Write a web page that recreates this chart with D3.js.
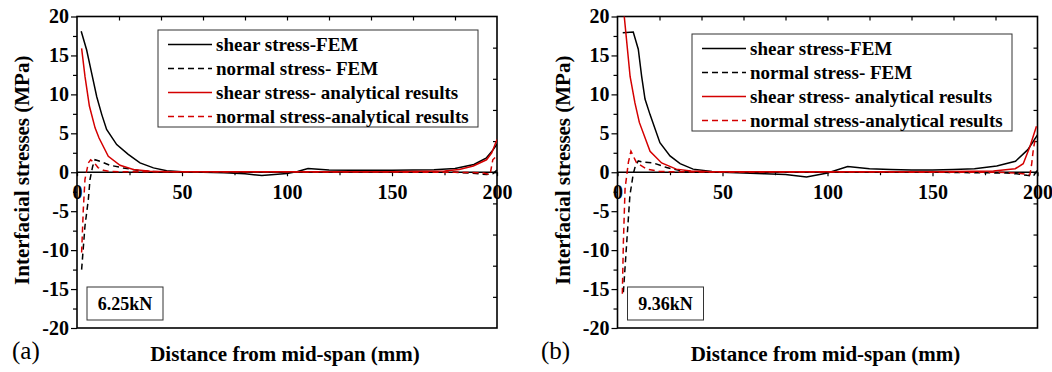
<!DOCTYPE html>
<html>
<head>
<meta charset="utf-8">
<script src="https://cdn.jsdelivr.net/npm/d3@7"></script>
<style>
  body { margin: 0; background: #fff; }
  text { font-family: "Liberation Serif", "Times New Roman", serif; }
</style>
</head>
<body>
<div id="CHART"></div>
<script>
// values (x in mm, stress in MPa)
var seriesNames = ["shear stress-FEM", "normal stress- FEM", "shear stress- analytical results", "normal stress-analytical results"];
var xTicks = [0, 50, 100, 150, 200];
var yTicks = [20, 15, 10, 5, 0, -5, -10, -15, -20];
var panelLabels = ["(a)", "(b)"];
var loadLabels = ["6.25kN", "9.36kN"];

// panel (a) 6.25kN
var aShearFEM = [[2,18.1],[4.6,15.7],[7,12.7],[9.4,9.7],[11.8,7.4],[14.1,5.5],[18.9,3.55],[24.4,2.3],[30,1.2],[36.4,0.56],[42.7,0.2],[50,0.05],[60,0],[70,-0.05],[80,-0.2],[88,-0.42],[100,-0.17],[105,0.1],[110,0.47],[120,0.3],[130,0.25],[140,0.25],[150,0.25],[160,0.28],[170,0.33],[180,0.47],[189,1.0],[195,1.85],[198.2,2.9],[200,3.6]];
var aNormalFEM = [[2.2,-12.5],[3.8,-6.9],[5.4,-3.5],[6.2,-0.9],[7.5,0.8],[8.6,1.6],[11,1.4],[15.7,0.9],[22,0.56],[30,0.2],[40,0.05],[50,0],[100,0],[150,0],[180,0],[190,-0.15],[195,-0.3],[198,-0.2],[200,0.3]];
var aShearAn = [[2.2,15.9],[3.8,12.3],[5.9,8.5],[8.6,5.7],[10.5,4.4],[14.9,2.05],[20.5,0.9],[26.8,0.35],[34.8,0.13],[45,0.05],[100,0.08],[150,0.08],[175,0.15],[182,0.35],[188.7,0.8],[195,1.6],[197.5,2.5],[200,4.2]];
var aNormalAn = [[2.2,-10.3],[3,-4.8],[3.8,-0.9],[5.4,1.2],[6.5,1.6],[8,1.3],[10,0.6],[12.5,0.25],[16,0.1],[25,0.05],[100,0.05],[180,0],[190,-0.05],[193.5,-0.1],[196.7,-0.3],[198,1.6],[199.5,2.0]];

// panel (b) 9.36kN
var bShearFEM = [[2.5,17.9],[7.5,18],[9.9,15.8],[11.5,12.3],[13.1,9.4],[15.5,7.4],[20.2,3.8],[25,2.1],[29.8,1.1],[36,0.4],[45,0.1],[50,0],[60,-0.1],[70,-0.2],[80,-0.3],[90,-0.6],[100,-0.1],[109.6,0.73],[120,0.45],[130,0.35],[140,0.3],[150,0.3],[160,0.35],[170,0.45],[180.6,0.8],[189.5,1.4],[195.4,2.9],[200,4.8]];
var bNormalFEM = [[2.8,-15.4],[4.4,-9],[5.9,-3],[7.5,-0.2],[8.5,0.8],[9.9,1.45],[12,1.3],[17,1.2],[23.4,0.6],[30,0.2],[40,0.05],[50,0],[100,0],[150,0],[185,-0.1],[190,-0.2],[195,-0.4],[198,-0.5],[200,0.3]];
var bShearAn = [[2.5,22],[6,12.3],[8.3,8.9],[10.4,6.4],[15.5,2.7],[21,1.2],[28,0.4],[35,0.15],[45,0.05],[100,0.05],[150,0.08],[179,0.17],[189.4,0.45],[193.2,1.1],[196.4,3.3],[199.5,5.9]];
var bNormalAn = [[2.3,-15.6],[2.8,-9],[3.6,-2.1],[5.2,1.3],[6.4,2.7],[9.1,1.2],[14,0.4],[20,0.1],[30,0.05],[100,0.03],[180,0],[190,-0.1],[196.4,-0.3],[197.2,1.0],[198,2.9],[199,4.5]];

var panelSeries = [[aShearFEM, aNormalFEM, aShearAn, aNormalAn], [bShearFEM, bNormalFEM, bShearAn, bNormalAn]];

var W = 1052, H = 372;
var TOP = 16.5, BOTTOM = 328, PW = 420;
var panelLeft = [77, 617.5];
var labelX = [12, 541];
var legendTop = [30, 34];
var legendLeft = [81, 74.5];
var colors = ["#000", "#000", "#d40000", "#d40000"];
var dashes = [null, "6,4", null, "6,4"];
var FONT = "Liberation Serif, Times New Roman, serif";

var svg = d3.select("#CHART")
    .append("svg")
    .attr("width", W)
    .attr("height", H);

function drawPanel(p) {
    var g = svg.append("g")
        .attr("transform", "translate(" + panelLeft[p] + ",0)");

    var x = d3.scaleLinear().domain([0, 200]).range([0, PW]);
    var y = d3.scaleLinear().domain([-20, 20]).range([BOTTOM, TOP]);

    g.append("clipPath").attr("id", "clip" + p)
        .append("rect")
        .attr("x", 0).attr("y", TOP)
        .attr("width", PW).attr("height", BOTTOM - TOP);

    // left axis, ticks outward
    var yAxis = g.append("g")
        .call(d3.axisLeft(y).tickValues(yTicks).tickSize(6).tickFormat(d3.format("d")))
        .attr("font-size", 20)
        .attr("font-weight", "bold")
        .attr("font-family", FONT);
    g.append("g")
        .call(d3.axisLeft(y).tickValues(d3.range(-17.5, 20, 5)).tickSize(4).tickFormat(""));
    yAxis.selectAll("text")
        .attr("x", -8)
        .text(function(d) { return d; });

    // x axis sits on y = 0
    var xAxis = g.append("g")
        .attr("transform", "translate(0," + y(0) + ")")
        .call(d3.axisBottom(x).tickValues(xTicks).tickSize(4))
        .attr("font-size", 20)
        .attr("font-weight", "bold")
        .attr("font-family", FONT);
    g.append("g")
        .attr("transform", "translate(0," + y(0) + ")")
        .call(d3.axisBottom(x).tickValues(d3.range(25, 200, 50)).tickSize(3).tickFormat(""));
    xAxis.selectAll("text")
        .attr("y", 13);

    // top and right frame ticks, pointing in
    g.append("g")
        .attr("transform", "translate(0," + TOP + ")")
        .call(d3.axisBottom(x).tickValues(d3.range(20, 200, 20)).tickSize(4).tickFormat(""));
    g.append("g")
        .attr("transform", "translate(" + PW + ",0)")
        .call(d3.axisLeft(y).tickValues(d3.range(-16, 20, 4)).tickSize(4).tickFormat(""));

    g.selectAll(".domain").remove();
    g.selectAll(".tick line").attr("stroke", "#000").attr("stroke-width", 1.2);
    g.selectAll(".tick text").attr("fill", "#000");

    g.append("rect")
        .attr("x", 0).attr("y", TOP)
        .attr("width", PW).attr("height", BOTTOM - TOP)
        .attr("fill", "none")
        .attr("stroke", "#000")
        .attr("stroke-width", 1.6);
    g.append("line")
        .attr("x1", 0).attr("x2", PW)
        .attr("y1", y(0)).attr("y2", y(0))
        .attr("stroke", "#000")
        .attr("stroke-width", 1.5);

    var line = d3.line()
        .x(function(d) { return x(d[0]); })
        .y(function(d) { return y(d[1]); });

    g.append("g")
        .attr("clip-path", "url(#clip" + p + ")")
        .selectAll("path")
        .data(panelSeries[p])
        .enter()
        .append("path")
        .attr("d", line)
        .attr("fill", "none")
        .attr("stroke", function(d, i) { return colors[i]; })
        .attr("stroke-width", 1.5)
        .attr("stroke-dasharray", function(d, i) { return dashes[i]; });

    // legend
    var lg = g.append("g")
        .attr("transform", "translate(" + legendLeft[p] + "," + legendTop[p] + ")");
    lg.append("rect")
        .attr("width", 320).attr("height", 97)
        .attr("fill", "#fff")
        .attr("stroke", "#333")
        .attr("stroke-width", 1);
    var rows = lg.selectAll(".row")
        .data(seriesNames)
        .enter()
        .append("g")
        .attr("transform", function(d, i) { return "translate(0," + (14.5 + i * 24) + ")"; });
    rows.append("line")
        .attr("x1", 10).attr("x2", 54)
        .attr("stroke", function(d, i) { return colors[i]; })
        .attr("stroke-width", 1.5)
        .attr("stroke-dasharray", function(d, i) { return dashes[i]; });
    rows.append("text")
        .attr("x", 58)
        .attr("dy", "0.35em")
        .style("font-size", "19px")
        .style("font-weight", "bold")
        .text(function(d) { return d; });

    // load box
    g.append("rect")
        .attr("x", 10).attr("y", 287)
        .attr("width", 76).attr("height", 33)
        .attr("fill", "#fff")
        .attr("stroke", "#333");
    g.append("text")
        .attr("x", 48).attr("y", 304)
        .attr("dy", "0.35em")
        .attr("text-anchor", "middle")
        .style("font-size", "18px")
        .style("font-weight", "bold")
        .text(loadLabels[p]);

    // axis titles
    g.append("text")
        .attr("transform", "translate(-48," + ((TOP + BOTTOM) / 2 - 2) + ") rotate(-90)")
        .attr("text-anchor", "middle")
        .style("font-size", "21px")
        .style("font-weight", "bold")
        .text("Interfacial stresses (MPa)");
    g.append("text")
        .attr("x", PW / 2 - 2).attr("y", 361)
        .attr("text-anchor", "middle")
        .style("font-size", "21px")
        .style("font-weight", "bold")
        .text("Distance from mid-span (mm)");

    svg.append("text")
        .attr("x", labelX[p]).attr("y", 359)
        .style("font-size", "25px")
        .text(panelLabels[p]);
}

drawPanel(0);
drawPanel(1);
</script>
</body>
</html>
